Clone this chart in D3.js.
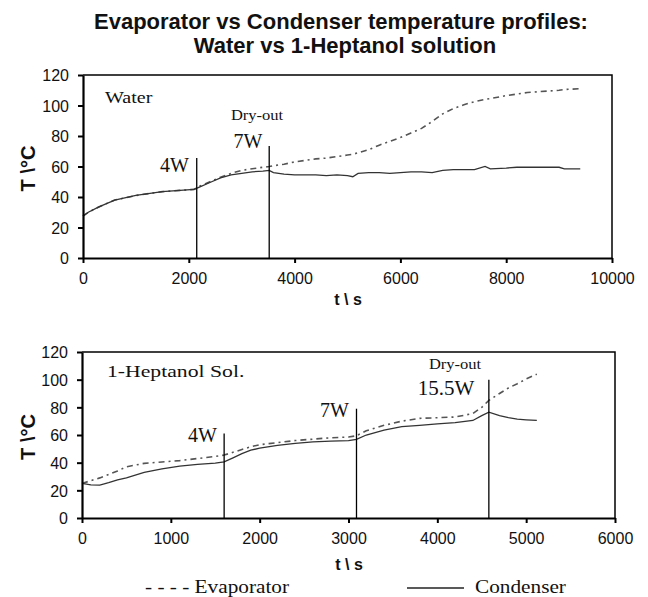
<!DOCTYPE html>
<html>
<head>
<meta charset="utf-8">
<script src="https://cdn.jsdelivr.net/npm/d3@7"></script>
<style>
  body { margin: 0; background: #fff; }
  .tick text { font-family: Arial, "Liberation Sans", sans-serif; font-size: 16px; fill: #111; }
  .domain, .tick line { stroke: #000; }
</style>
</head>
<body>
<div class="chart"></div>
<script>
'use strict';

/*---------------------------------------------------------------
data
---------------------------------------------------------------*/
var waterTime = [0, 100, 300, 600, 1000, 1500, 1900, 2100, 2200, 2400, 2600, 2800, 3000, 3200, 3400, 3520, 3600, 3800, 4000, 4200, 4400, 4600, 4800, 5000, 5100, 5200, 5400, 5600, 5800, 6000, 6200, 6400, 6600, 6800, 7000, 7200, 7400, 7600, 7700, 8000, 8200, 8400, 8600, 8800, 9000, 9100, 9400];
var waterCond = [27.5, 30, 33.5, 38, 41, 43.5, 44.5, 45, 46.5, 49.5, 52.5, 54.5, 55.5, 56.5, 57, 57.5, 56, 55, 54.5, 54.5, 54.5, 54, 54.5, 54, 53.3, 55.5, 56, 56, 55.5, 56, 56.5, 56.5, 56, 57.5, 58, 58, 58, 60, 58.5, 59, 59.5, 59.5, 59.5, 59.5, 59.5, 58.5, 58.5];
var waterEvap = [27.5, 30, 33.5, 38, 41, 43.5, 44.5, 45, 47, 50, 53, 55.5, 57.5, 58.5, 59.5, 60, 60.5, 61.5, 63, 64, 65, 65.5, 66.5, 67.5, 68, 69, 71, 74, 76.5, 79, 82, 85, 89.5, 94.5, 98, 100.5, 102.5, 104, 104.5, 106.5, 107.5, 108.5, 109, 109.5, 110, 110.5, 111];

var heptTime = [0, 100, 200, 300, 400, 500, 700, 900, 1100, 1300, 1500, 1600, 1700, 1800, 1900, 2000, 2200, 2400, 2600, 2800, 3000, 3090, 3200, 3400, 3600, 3800, 4000, 4200, 4400, 4500, 4580, 4700, 4800, 4900, 5000, 5120];
var heptCond = [25, 24, 23.8, 25.5, 27.5, 29, 33, 35.5, 37.5, 38.7, 39.7, 40.6, 43.5, 46.5, 49, 50.5, 52.5, 54, 55, 55.5, 56, 56.8, 60, 63.5, 66, 67, 68, 69, 70.5, 74, 76.5, 74, 72.5, 71.5, 71, 70.5];
var heptEvap = [25, 27, 29, 31.5, 34, 37, 39.5, 40.5, 41.5, 43, 44.5, 45.5, 47.5, 49.5, 51.5, 53, 54.5, 56, 57, 58, 58.5, 59.5, 63, 67, 70, 72, 72.5, 73, 75.5, 80, 85, 90, 94, 97, 100.5, 104];

// power steps: time, top of the marker line
var waterMarkT = [2150, 3520];
var waterMarkTop = [65.5, 73.5];
var heptMarkT = [1600, 3090, 4580];
var heptMarkTop = [61, 79, 100];

var yTicks = [0, 20, 40, 60, 80, 100, 120];
var waterXTicks = [0, 2000, 4000, 6000, 8000, 10000];
var heptXTicks = [0, 1000, 2000, 3000, 4000, 5000, 6000];

/*---------------------------------------------------------------
svg
---------------------------------------------------------------*/
var w = 648,
    h = 597;

var svg = d3.select('.chart')
    .append('svg')
    .attr('width', w)
    .attr('height', h);

var serif = '"Liberation Serif", "Times New Roman", serif',
    sans = 'Arial, "Liberation Sans", sans-serif';

// title
svg.append('text')
    .attr('x', 341).attr('y', 29)
    .attr('text-anchor', 'middle')
    .attr('font-family', sans).attr('font-weight', 'bold').attr('font-size', 22)
    .attr('fill', '#111')
    .text('Evaporator vs Condenser temperature profiles:');
svg.append('text')
    .attr('x', 345).attr('y', 53)
    .attr('text-anchor', 'middle')
    .attr('font-family', sans).attr('font-weight', 'bold').attr('font-size', 22)
    .attr('fill', '#111')
    .text('Water vs 1-Heptanol solution');

/*---------------------------------------------------------------
one panel
---------------------------------------------------------------*/
var makePanel = function(opt) {

    var x = d3.scaleLinear().domain(opt.xDomain).range([opt.left, opt.right]);
    var y = d3.scaleLinear().domain([0, 120]).range([opt.bottom, opt.top]);

    var g = svg.append('g');

    // box (top + right)
    g.append('path')
        .attr('d', 'M' + opt.left + ',' + opt.top + 'H' + opt.right + 'V' + opt.bottom)
        .attr('fill', 'none')
        .attr('stroke', '#000')
        .attr('stroke-width', 1.5);

    var line = d3.line()
        .x(function(d) { return x(d[0]); })
        .y(function(d) { return y(d[1]); });

    var evap = opt.time.map(function(t, i) { return [t, opt.evap[i]]; });
    var cond = opt.time.map(function(t, i) { return [t, opt.cond[i]]; });

    g.append('path')
        .datum(evap)
        .attr('d', line)
        .attr('fill', 'none')
        .attr('stroke', '#555')
        .attr('stroke-width', 1.6)
        .attr('stroke-dasharray', '6,4,2,4');

    g.append('path')
        .datum(cond)
        .attr('d', line)
        .attr('fill', 'none')
        .attr('stroke', '#333')
        .attr('stroke-width', 1.3);

    // power step markers
    g.selectAll('.mark')
        .data(opt.markT)
        .enter()
        .append('line')
        .attr('x1', function(d) { return x(d); })
        .attr('x2', function(d) { return x(d); })
        .attr('y1', y(0))
        .attr('y2', function(d, i) { return y(opt.markTop[i]); })
        .attr('stroke', '#000')
        .attr('stroke-width', 1.3);

    // axes
    var xAxis = g.append('g')
        .attr('transform', 'translate(0,' + opt.bottom + ')')
        .call(d3.axisBottom(x).tickValues(opt.xTicks).tickSize(5).tickSizeOuter(0).tickPadding(10).tickFormat(d3.format('d')));
    var yAxis = g.append('g')
        .attr('transform', 'translate(' + opt.left + ',0)')
        .call(d3.axisLeft(y).tickValues(yTicks).tickSize(5).tickSizeOuter(0).tickPadding(9));
    [xAxis, yAxis].forEach(function(a) {
        a.select('.domain').attr('stroke-width', 2.2);
        a.selectAll('.tick line').attr('stroke-width', 2);
    });
    yAxis.selectAll('.tick text').attr('dy', '0.36em');

    // axis titles
    svg.append('text')
        .attr('x', opt.xLabelX).attr('y', opt.xLabelY)
        .attr('text-anchor', 'middle')
        .attr('font-family', sans).attr('font-weight', 'bold').attr('font-size', 16)
        .attr('fill', '#111')
        .text('t \\ s');
    svg.append('text')
        .attr('transform', 'translate(35,' + ((opt.top + opt.bottom) / 2 + 2) + ') rotate(-90)')
        .attr('text-anchor', 'middle')
        .attr('font-family', sans).attr('font-weight', 'bold').attr('font-size', 20)
        .attr('fill', '#111')
        .text('T \\\u00b0C');

    // annotations (the source type is a little wider than Times, hence sx)
    opt.notes.forEach(function(n) {
        svg.append('text')
            .attr('transform', 'translate(' + n.x + ',' + n.y + ') scale(' + (n.sx || 1) + ',1)')
            .attr('text-anchor', n.anchor || 'start')
            .attr('font-family', serif).attr('font-size', n.size)
            .attr('fill', '#111')
            .text(n.text);
    });
};

makePanel({
    xDomain: [0, 10000], left: 83, right: 612, top: 75, bottom: 258,
    time: waterTime, evap: waterEvap, cond: waterCond,
    markT: waterMarkT, markTop: waterMarkTop, xTicks: waterXTicks,
    xLabelX: 348, xLabelY: 305,
    notes: [
        { text: 'Water', x: 105, y: 103, size: 17, sx: 1.18 },
        { text: 'Dry-out', x: 257, y: 120, size: 15, sx: 1.1, anchor: 'middle' },
        { text: '7W', x: 248, y: 148, size: 20, anchor: 'middle' },
        { text: '4W', x: 189, y: 172, size: 20, anchor: 'end' }
    ]
});

makePanel({
    xDomain: [0, 6000], left: 82, right: 615, top: 352, bottom: 518,
    time: heptTime, evap: heptEvap, cond: heptCond,
    markT: heptMarkT, markTop: heptMarkTop, xTicks: heptXTicks,
    xLabelX: 349, xLabelY: 570,
    notes: [
        { text: '1-Heptanol Sol.', x: 107, y: 377, size: 17.5, sx: 1.24 },
        { text: '4W', x: 217, y: 442, size: 20, anchor: 'end' },
        { text: '7W', x: 349, y: 417, size: 20, anchor: 'end' },
        { text: 'Dry-out', x: 455, y: 369, size: 15, sx: 1.1, anchor: 'middle' },
        { text: '15.5W', x: 446, y: 395, size: 20, sx: 1.05, anchor: 'middle' }
    ]
});

/*---------------------------------------------------------------
legend
---------------------------------------------------------------*/
svg.append('text')
    .attr('transform', 'translate(145,593) scale(1.12,1)')
    .attr('font-family', serif).attr('font-size', 19)
    .attr('fill', '#111')
    .text('- - - - Evaporator');
svg.append('line')
    .attr('x1', 407).attr('x2', 464)
    .attr('y1', 588).attr('y2', 588)
    .attr('stroke', '#222').attr('stroke-width', 1.3);
svg.append('text')
    .attr('transform', 'translate(475,593) scale(1.12,1)')
    .attr('font-family', serif).attr('font-size', 19)
    .attr('fill', '#111')
    .text('Condenser');

</script>
</body>
</html>
